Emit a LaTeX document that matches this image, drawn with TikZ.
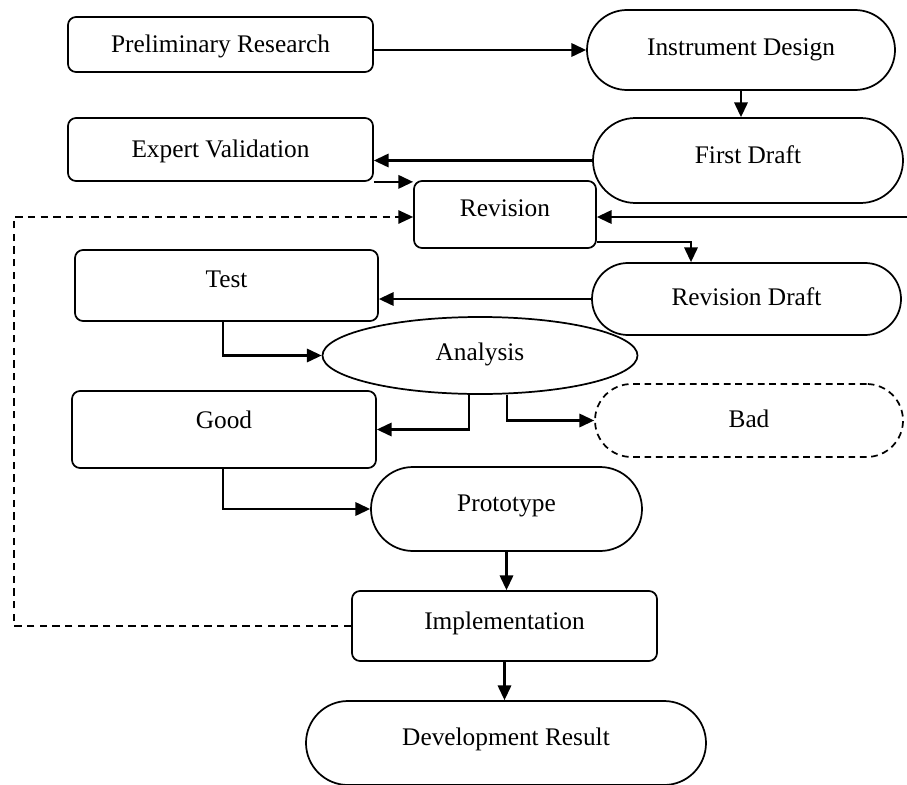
\documentclass[tikz,border=0pt]{standalone}
\usepackage{fontspec}
\setmainfont{Liberation Serif}
\usetikzlibrary{arrows.meta,shapes.geometric}
\begin{document}
\begin{tikzpicture}[x=0.75pt,y=-0.75pt,
  base/.style={draw, line width=1.3pt, inner sep=0pt, font=\fontsize{19}{22}\selectfont,
    text height=12.6pt, text depth=0pt, align=center},
  rbox/.style={base, rounded corners=6pt},
  pill/.style={base, rounded corners=#1*0.375pt},
  wh/.style 2 args={minimum width=#1*0.75pt, minimum height=#2*0.75pt},
  up/.style={text depth=#1*1.5pt},
  conn/.style={line width=1.6pt, -{Triangle[length=11pt,width=10pt]}},
  dconn/.style={line width=1.1pt, dashed, dash pattern=on 5.5pt off 4pt, -{Triangle[length=11pt,width=10pt]}},
]
\useasboundingbox (0,0) rectangle (907,785);

\node[rbox, wh={305}{55}] (pr) at (220.5,44.5) {Preliminary Research};
\node[pill=80, wh={308}{80}, up=3] (id) at (741,50) {Instrument Design};
\node[pill=85, wh={310}{85}, up=5.5] (fd) at (748,160.5) {First Draft};
\node[rbox, wh={305}{63}] (ev) at (220.5,149.5) {Expert Validation};
\node[rbox, wh={182}{67}, up=6.5] (rev) at (505,214.5) {Revision};
\node[rbox, wh={303}{71}, up=6.5] (test) at (226.5,285.5) {Test};
\node[pill=72, wh={309}{72}, up=2] (rd) at (746.5,299) {Revision Draft};
\node[base, ellipse, wh={315}{77}, up=3] (an) at (480,355.5) {Analysis};
\node[rbox, wh={304}{77}, up=9.5] (good) at (224,429.5) {Good};
\node[pill=73, dashed, dash pattern=on 5pt off 3.5pt, wh={308}{73}, up=1.5] (bad) at (749,420.5) {Bad};
\node[pill=84, wh={271}{84}, up=6] (proto) at (506.5,509) {Prototype};
\node[rbox, wh={305}{70}, up=5] (impl) at (504.5,626) {Implementation};
\node[pill=84, wh={400}{84}, up=6] (dr) at (506,743) {Development Result};

\coordinate (rin) at (907,217);
\coordinate (dl) at (14,217);

\draw[conn] (pr.east |- id.west) -- (id.west);
\draw[conn] (id.south) -- (id.south |- fd.north);
\draw[conn] (fd.west) -- (ev.east |- fd.west);
\draw[conn] (ev.south east) -- (ev.south east -| rev.west);
\draw[conn] (rin) -- (rin -| rev.east);
\draw[dconn] (impl.west) -| (dl) -- (dl -| rev.west);
\draw[conn] (rev.east |- 0,242) -- (691,242) -- (rd.north -| 691,0);
\draw[conn] (rd.west) -- (test.east |- rd.west);
\draw[conn] (test.south -| 223,0) |- (an.west);
\draw[conn] (an.south -| 469,0) |- (good.east);
\draw[conn] (an.south -| 507,0) |- (bad.west);
\draw[conn] (good.south -| 223,0) |- (proto.west);
\draw[conn] (proto.south) -- (proto.south |- impl.north);
\draw[conn] (impl.south) -- (impl.south |- dr.north);
\end{tikzpicture}
\end{document}
